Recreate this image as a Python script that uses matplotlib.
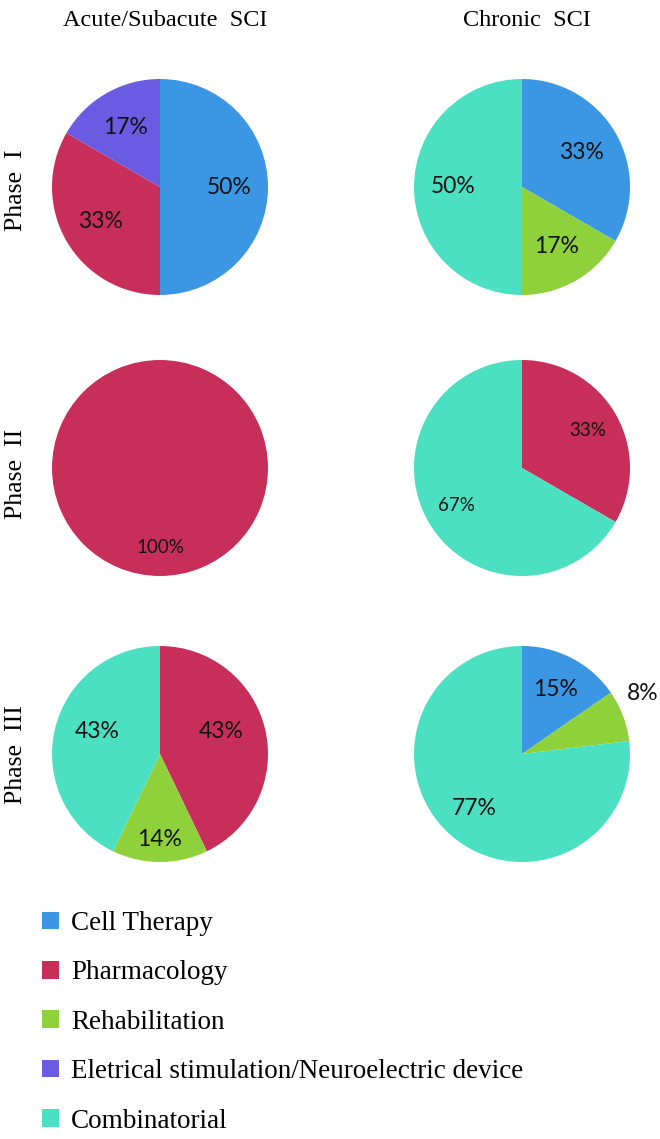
import matplotlib
matplotlib.use("Agg")
import matplotlib.pyplot as plt
from matplotlib.patches import Patch

# categories and colours
categories = ["Cell Therapy", "Pharmacology", "Rehabilitation",
              "Eletrical stimulation/Neuroelectric device", "Combinatorial"]
colors = ["#3b97e3", "#c72f5a", "#8fd13b", "#6a5be2", "#4be0c2"]

col_titles = ["Acute/Subacute  SCI", "Chronic  SCI"]
row_titles = ["Phase  I", "Phase  II", "Phase  III"]

# number of trials per category (order follows categories list)
acute_p1 = [3, 2, 0, 1, 0]
chronic_p1 = [2, 0, 1, 0, 3]
acute_p2 = [0, 1, 0, 0, 0]
chronic_p2 = [0, 1, 0, 0, 2]
acute_p3 = [0, 3, 1, 0, 3]
chronic_p3 = [2, 0, 1, 0, 10]

data = [[acute_p1, chronic_p1], [acute_p2, chronic_p2], [acute_p3, chronic_p3]]

W, H = 660, 1139
fig = plt.figure(figsize=(W / 100, H / 100), dpi=100)
fig.patch.set_facecolor("white")

serif = "Liberation Serif"
sans = "Lato"

col_x = [160, 522]
row_y = [187, 468, 754]
R = 108
span = 1.3
pct_size = [16.5, 13.5, 16.5]
pct_dist = [[0.64, 0.64], [0.74, 0.7], [0.6, 0.67]]

for i in range(3):
    for j in range(2):
        cx, cy = col_x[j], row_y[i]
        ax = fig.add_axes([(cx - span * R) / W, 1 - (cy + span * R) / H,
                           2 * span * R / W, 2 * span * R / H])
        vals = data[i][j]
        idx = [k for k, v in enumerate(vals) if v > 0]
        sizes = [vals[k] for k in idx]
        cols = [colors[k] for k in idx]
        wedges, texts, autotexts = ax.pie(
            sizes, colors=cols, startangle=90, counterclock=False,
            autopct="%.0f%%", pctdistance=pct_dist[i][j],
            wedgeprops=dict(linewidth=0),
            textprops=dict(fontfamily=sans, fontsize=pct_size[i], color="#111111"))
        ax.set_xlim(-span, span)
        ax.set_ylim(-span, span)
        ax.set_aspect("equal")
        ax.axis("off")
        # small 8% slice: label outside
        if i == 2 and j == 1:
            autotexts[1].set_position((1.12, 0.56))
        if i == 2 and j == 0:
            autotexts[1].set_position((0, -0.79))
            autotexts[0].set_position((0.57, 0.21))
            autotexts[2].set_position((-0.58, 0.21))

title_x = [165, 527]
for j, t in enumerate(col_titles):
    fig.text(title_x[j] / W, 1 - 20 / H, t,
             ha="center", va="center", fontfamily=serif, fontsize=17.5)

row_label_y = [190, 474, 755]
for i, t in enumerate(row_titles):
    fig.text(16 / W, 1 - row_label_y[i] / H, t, rotation=90,
             ha="center", va="center", fontfamily=serif, fontsize=18.5)

handles = [Patch(facecolor=c, edgecolor="none") for c in colors]
fig.legend(handles, categories, loc="upper left",
           bbox_to_anchor=(42 / W, 1 - 911 / H), frameon=False,
           prop=dict(family=serif, size=19.5),
           handlelength=0.63, handleheight=0.63, handletextpad=0.45,
           labelspacing=0.9, borderpad=0, borderaxespad=0)

fig.savefig("out.png", dpi=100, facecolor="white")
